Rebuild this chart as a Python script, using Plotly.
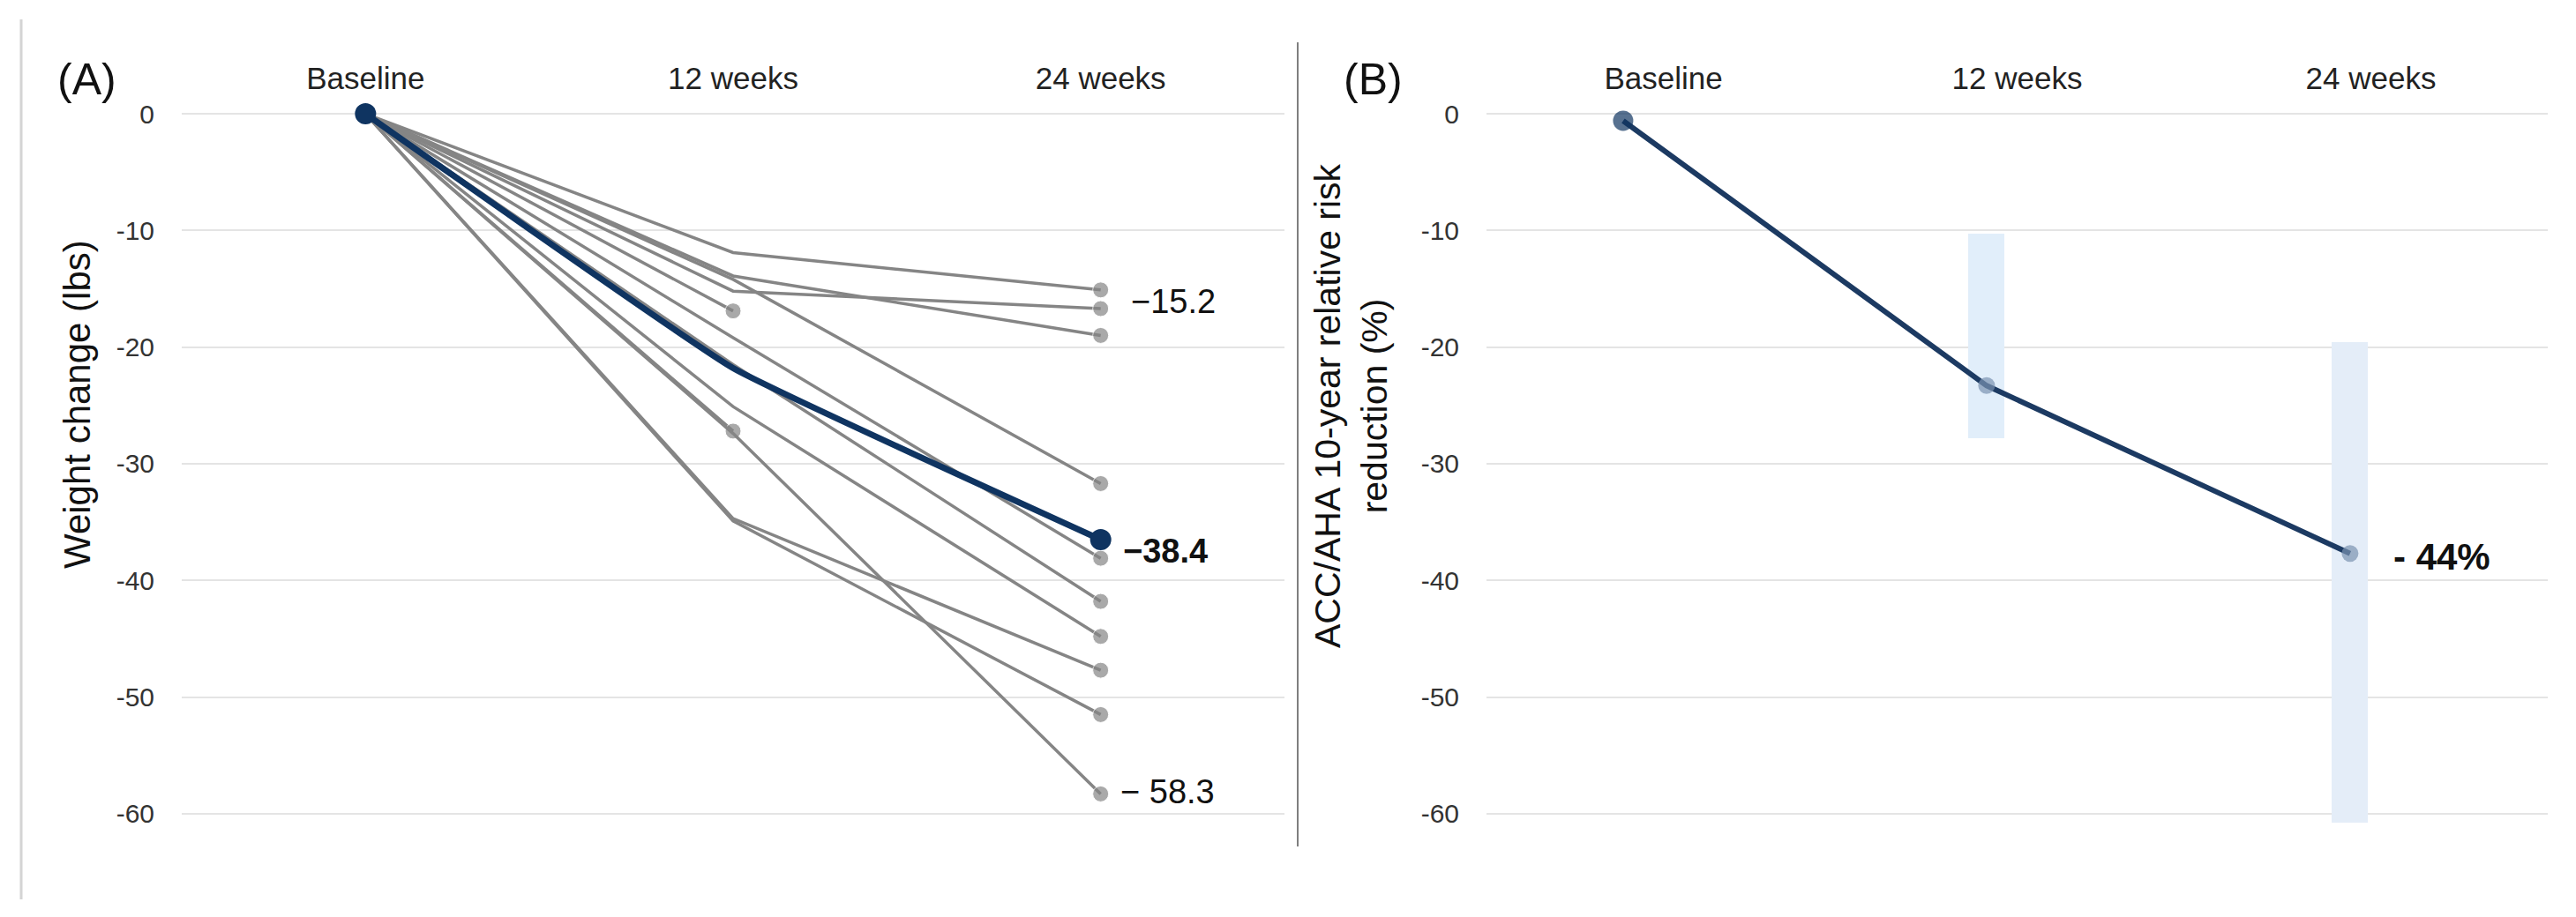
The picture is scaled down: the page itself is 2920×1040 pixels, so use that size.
import plotly.graph_objects as go

# ---------------- data ----------------
weeks = ["Baseline", "12 weeks", "24 weeks"]

# Panel A: individual weight change (lbs)
baseline_change = 0.0
wk12_change = [-11.9, -13.9, -15.2, -14.2, -16.9, -19.2, -21.5, -25.1, -27.2, -27.4, -34.7, -34.9]
wk24_change = [-15.1, -19.0, -16.7, -31.7, None, -38.1, -41.8, -44.8, None, -58.3, -47.7, -51.5]
mean_change = [0.0, -21.8, -36.5]
label_a_texts = ["\u221215.2", "\u221238.4", "\u2212 58.3"]

# Panel B: ACC/AHA 10-year relative risk reduction (%)
risk_change = [-0.6, -23.3, -37.7]
ci_weeks = ["12 weeks", "24 weeks"]
ci_upper = [-10.3, -19.6]
ci_lower = [-27.8, -60.8]
label_b_text = "- 44%"

y_ticks = [0, -10, -20, -30, -40, -50, -60]
y_ticktext = ["0", "-10", "-20", "-30", "-40", "-50", "-60"]

# ---------------- styling ----------------
W, H = 2920, 1040
FONT = "Liberation Sans, Arial, Helvetica, sans-serif"
GREY = "#858585"
NAVY = "#0f3461"
STEEL = "#7b93b0"

def px_x(p):
    return p / W

def px_y(p):
    return 1 - p / H

y_dom = [px_y(975.8), px_y(109.2)]
yrange = [-64, 1.5]

fig = go.Figure()

# Panel A grey individual lines
for v12, v24 in zip(wk12_change, wk24_change):
    ys = [baseline_change, v12, v24]
    sizes = [0, 18 if v24 is None else 0, 18 if v24 is not None else 0]
    fig.add_trace(go.Scatter(
        x=weeks, y=ys, mode="lines+markers",
        line=dict(color=GREY, width=3.5),
        marker=dict(color=GREY, size=sizes),
        showlegend=False, hoverinfo="skip", xaxis="x", yaxis="y"))

# Panel A mean line
fig.add_trace(go.Scatter(
    x=weeks, y=mean_change, mode="lines",
    line=dict(color=NAVY, width=7, shape="spline", smoothing=0.3),
    showlegend=False, hoverinfo="skip", xaxis="x", yaxis="y"))
fig.add_trace(go.Scatter(
    x=[weeks[0], weeks[2]], y=[mean_change[0], mean_change[2]], mode="markers",
    marker=dict(color=NAVY, size=24),
    showlegend=False, hoverinfo="skip", xaxis="x", yaxis="y"))

# Panel B CI bars
fig.add_trace(go.Bar(
    x=ci_weeks, y=[lo - up for lo, up in zip(ci_lower, ci_upper)], base=ci_upper,
    width=0.1, marker=dict(color=["#e1eefa", "#e4edf8"], line=dict(width=0)),
    showlegend=False, hoverinfo="skip", xaxis="x2", yaxis="y2"))

# Panel B line
fig.add_trace(go.Scatter(
    x=weeks, y=risk_change, mode="lines+markers",
    line=dict(color="#1c3a62", width=6),
    marker=dict(color=[NAVY, STEEL, STEEL], size=[23, 19, 19], line=dict(width=0)),
    showlegend=False, hoverinfo="skip", xaxis="x2", yaxis="y2"))

# Dummy trace to carry panel B category labels axis
fig.add_trace(go.Scatter(
    x=weeks, y=[None] * len(weeks), mode="markers",
    showlegend=False, hoverinfo="skip", xaxis="x3", yaxis="y2"))

xcommon = dict(type="category", categoryorder="array", categoryarray=weeks,
               showgrid=False, showline=False, zeroline=False, ticks="",
               automargin=False,
               tickfont=dict(family=FONT, size=35, color="#222"), fixedrange=True)
ycommon = dict(range=yrange, tickvals=y_ticks, ticktext=y_ticktext,
               showgrid=True, gridcolor="#e4e4e4", gridwidth=2,
               zeroline=False, showline=False, ticks="", automargin=False,
               tickfont=dict(family=FONT, size=30, color="#333"),
               ticklabelstandoff=30, fixedrange=True, domain=y_dom)

fig.update_layout(
    width=W, height=H, autosize=False,
    margin=dict(l=0, r=0, t=0, b=0, pad=0, autoexpand=False),
    paper_bgcolor="white", plot_bgcolor="white",
    font=dict(family=FONT, color="#111"),
    bargap=0,
    xaxis=dict(**xcommon, domain=[px_x(206), px_x(1456)], anchor="y",
               side="top", range=[-0.5, 2.5]),
    yaxis=dict(**ycommon, anchor="x"),
    xaxis2=dict(**xcommon, domain=[px_x(1685), px_x(2888)], anchor="y2",
                range=[-0.376, 2.544], visible=False),
    xaxis3=dict(**xcommon, domain=[px_x(1685), px_x(2888)], anchor="y2",
                overlaying="x2", side="top", range=[-0.5, 2.5]),
    yaxis2=dict(**ycommon, anchor="x2"),
)

ann = []
# panel letters
ann.append(dict(text="(A)", x=px_x(98), y=px_y(90), xref="paper", yref="paper",
                xanchor="center", yanchor="middle",
                showarrow=False, font=dict(size=50, family=FONT, color="#111")))
ann.append(dict(text="(B)", x=px_x(1556), y=px_y(90), xref="paper", yref="paper",
                xanchor="center", yanchor="middle",
                showarrow=False, font=dict(size=50, family=FONT, color="#111")))
# y titles
ann.append(dict(text="Weight change (lbs)", x=px_x(87), y=px_y(459), xref="paper", yref="paper",
                xanchor="center", yanchor="middle",
                textangle=-90, showarrow=False, font=dict(size=42, family=FONT, color="#111")))
ann.append(dict(text="ACC/AHA 10-year relative risk<br>reduction (%)", x=px_x(1531), y=px_y(460),
                xref="paper", yref="paper", xanchor="center", yanchor="middle",
                textangle=-90, showarrow=False,
                font=dict(size=41, family=FONT, color="#111")))
# value labels panel A
top_end = max(v for v in wk24_change if v is not None)
low_end = min(v for v in wk24_change if v is not None)
ann.append(dict(text=label_a_texts[0], x=weeks[2], y=top_end, xref="x", yref="y",
                xanchor="left", yanchor="middle", xshift=32, yshift=-13, showarrow=False,
                font=dict(size=38, family=FONT, color="#111")))
ann.append(dict(text="<b>" + label_a_texts[1] + "</b>", x=weeks[2], y=mean_change[2], xref="x", yref="y",
                xanchor="left", yanchor="middle", xshift=23, yshift=-13, showarrow=False,
                font=dict(size=38, family=FONT, color="#111")))
ann.append(dict(text=label_a_texts[2], x=weeks[2], y=low_end, xref="x", yref="y",
                xanchor="left", yanchor="middle", xshift=20, yshift=2, showarrow=False,
                font=dict(size=38, family=FONT, color="#111")))
# value label panel B
ann.append(dict(text="<b>" + label_b_text + "</b>", x=weeks[2], y=risk_change[2], xref="x2", yref="y2",
                xanchor="left", yanchor="middle", xshift=47, yshift=-4, showarrow=False,
                font=dict(size=42, family=FONT, color="#111")))
fig.update_layout(annotations=ann)

fig.update_layout(shapes=[
    dict(type="line", xref="paper", yref="paper", x0=px_x(24), x1=px_x(24),
         y0=px_y(22), y1=px_y(1020), line=dict(color="#d4d4d4", width=3)),
    dict(type="line", xref="paper", yref="paper", x0=px_x(1471), x1=px_x(1471),
         y0=px_y(48), y1=px_y(960), line=dict(color="#555", width=1.5)),
])

fig.write_html("out.html", config={"displayModeBar": False},
               post_script="document.body.style.margin='0px';document.body.style.overflow='hidden';")
